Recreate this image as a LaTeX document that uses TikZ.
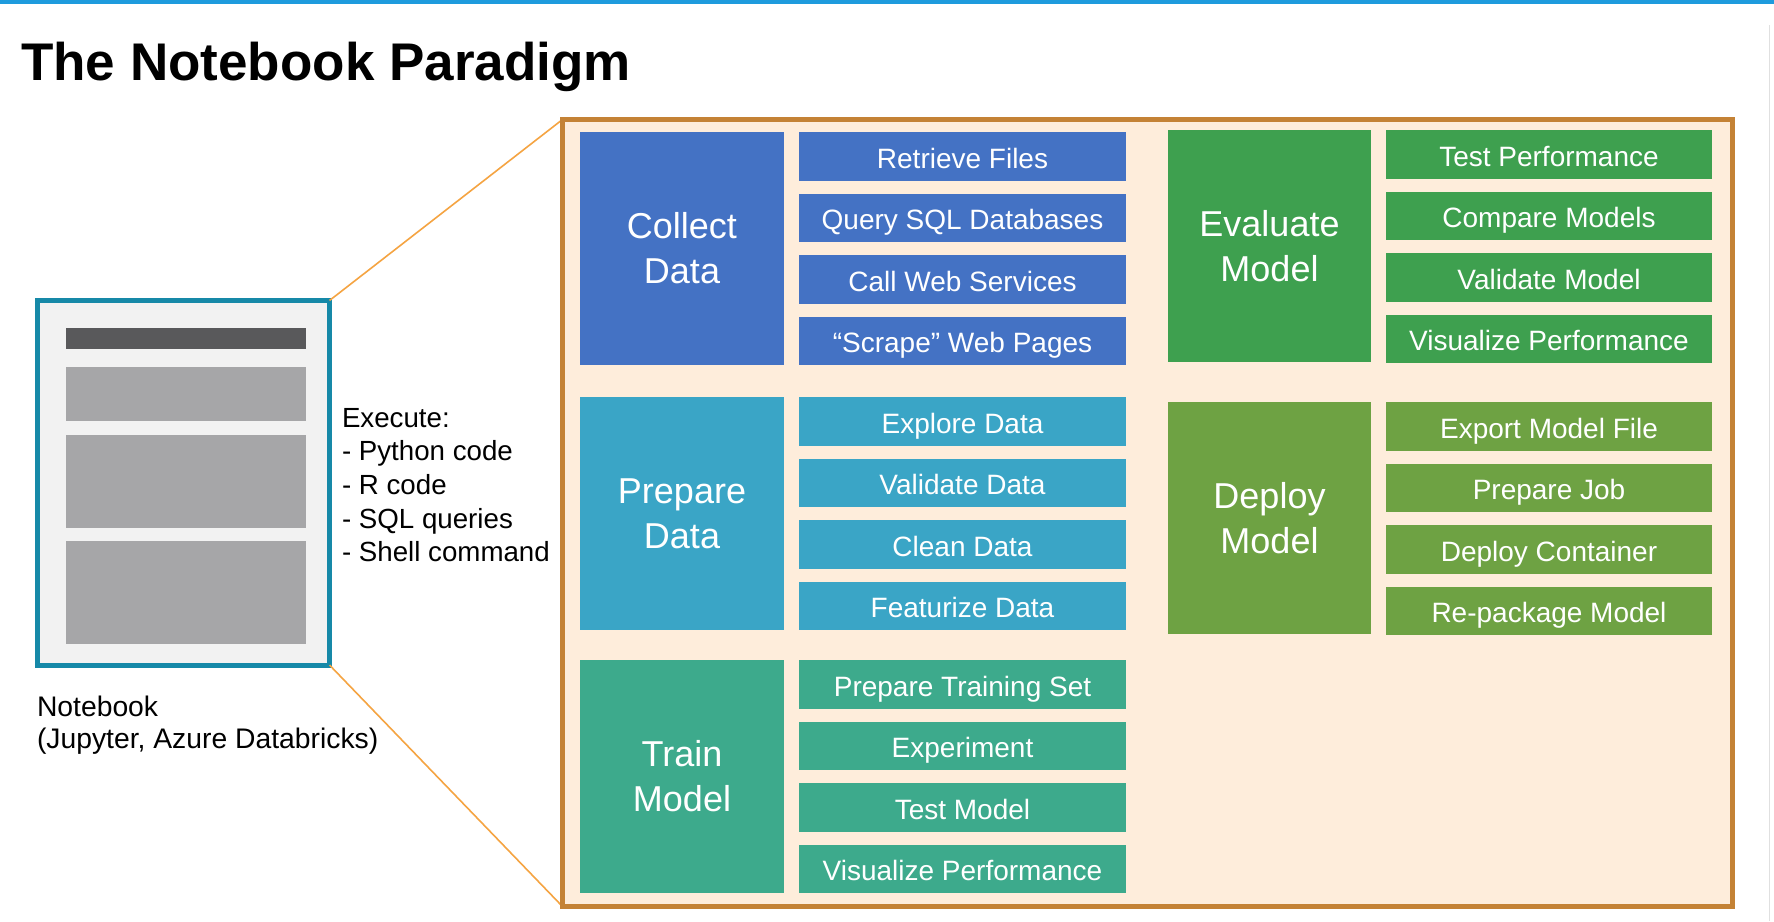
\documentclass[tikz,border=0pt]{standalone}
\usepackage{fontspec}
\setmainfont{Liberation Sans}
\definecolor{topblue}{HTML}{1E9BDD}
\definecolor{cCollect}{HTML}{4472C4}
\definecolor{cPrepare}{HTML}{3AA5C6}
\definecolor{cTrain}{HTML}{3DAA8C}
\definecolor{cEval}{HTML}{3EA04F}
\definecolor{cDeploy}{HTML}{6EA243}
\definecolor{frameline}{HTML}{C48235}
\definecolor{framefill}{HTML}{FEEDDB}
\definecolor{nbline}{HTML}{1689A8}
\definecolor{nbfill}{HTML}{F2F2F2}
\definecolor{nbdark}{HTML}{59595B}
\definecolor{nbgray}{HTML}{A6A6A8}
\definecolor{zoomline}{HTML}{F5A442}
\begin{document}
\begin{tikzpicture}[x=1pt,y=-1pt,
  box/.style={anchor=north west, inner sep=0pt, outer sep=0pt, text=white, align=center},
  headbox/.style={box, minimum width=204pt, minimum height=233pt, font=\fontsize{36}{45}\selectfont},
  subbox/.style={box, minimum width=327pt, minimum height=48.5pt, font=\fontsize{28}{34}\selectfont, text height=24pt, text depth=0pt},
  nbpart/.style={anchor=north west, inner sep=0pt, outer sep=0pt, minimum width=240pt},
  plain/.style={inner sep=0pt, outer sep=0pt, align=left, font=\fontsize{27.7}{33.7}\selectfont},
  zoomconn/.style={draw=zoomline, line width=1.6pt}
]
\useasboundingbox (0,0) rectangle (1774,921);
\fill[white] (0,0) rectangle (1774,921);
\fill[topblue] (0,0) rectangle (1774,3.5);
\draw[black!12, line width=1pt] (1769,25) -- (1769,921);

% title
\node[anchor=base west, inner sep=0pt, font=\fontsize{53}{60}\selectfont\bfseries] (title) at (21,80) {The Notebook Paradigm};

% notebook
\node[anchor=north west, draw=nbline, fill=nbfill, line width=5pt, inner sep=0pt, outer sep=0pt,
      minimum width=292pt, minimum height=364.5pt] (nb) at (37.5,300.5) {};
\node[nbpart, fill=nbdark, minimum height=21pt] (bar) at (66,328) {};
\node[nbpart, fill=nbgray, minimum height=54pt] (cell1) at (66,367) {};
\node[nbpart, fill=nbgray, minimum height=93pt] (cell2) at (66,435) {};
\node[nbpart, fill=nbgray, minimum height=103pt] (cell3) at (66,541) {};

% multi-line nodes: base anchor is the baseline of the last line
\node[plain, anchor=base west] (exec) at (342,561.8) {Execute:\\- Python code\\- R code\\- SQL queries\\- Shell command};
\node[plain, anchor=base west, font=\fontsize{28.3}{32}\selectfont] (nblabel) at (37,748) {Notebook\\(Jupyter, Azure Databricks)};

% frame
\node[anchor=north west, draw=frameline, fill=framefill, line width=5pt, inner sep=0pt, outer sep=0pt,
      minimum width=1170pt, minimum height=787pt] (frame) at (562.5,119.5) {};
\draw[zoomconn] (nb.north east) -- (frame.north west);
\draw[zoomconn] (nb.south east) -- (frame.south west);
\draw[frameline, line width=5pt] (frame.north west) rectangle (frame.south east);

% Collect Data
\node[headbox, fill=cCollect] (collect) at (580,132) {Collect\\Data};
\node[subbox, fill=cCollect] (c1) at (799,132) {Retrieve Files};
\node[subbox, fill=cCollect] (c2) at (799,193.5) {Query SQL Databases};
\node[subbox, fill=cCollect] (c3) at (799,255) {Call Web Services};
\node[subbox, fill=cCollect] (c4) at (799,316.5) {“Scrape” Web Pages};

% Prepare Data
\node[headbox, fill=cPrepare] (prepare) at (580,397) {Prepare\\Data};
\node[subbox, fill=cPrepare] (p1) at (799,397) {Explore Data};
\node[subbox, fill=cPrepare] (p2) at (799,458.5) {Validate Data};
\node[subbox, fill=cPrepare] (p3) at (799,520) {Clean Data};
\node[subbox, fill=cPrepare] (p4) at (799,581.5) {Featurize Data};

% Train Model
\node[headbox, fill=cTrain] (train) at (580,660) {Train\\Model};
\node[subbox, fill=cTrain] (t1) at (799,660) {Prepare Training Set};
\node[subbox, fill=cTrain] (t2) at (799,721.5) {Experiment};
\node[subbox, fill=cTrain] (t3) at (799,783) {Test Model};
\node[subbox, fill=cTrain] (t4) at (799,844.5) {Visualize Performance};

% Evaluate Model
\node[headbox, fill=cEval, minimum width=203pt, minimum height=232pt] (evaluate) at (1168,130) {Evaluate\\Model};
\node[subbox, fill=cEval, minimum width=326pt] (e1) at (1386,130) {Test Performance};
\node[subbox, fill=cEval, minimum width=326pt] (e2) at (1386,191.5) {Compare Models};
\node[subbox, fill=cEval, minimum width=326pt] (e3) at (1386,253) {Validate Model};
\node[subbox, fill=cEval, minimum width=326pt] (e4) at (1386,314.5) {Visualize Performance};

% Deploy Model
\node[headbox, fill=cDeploy, minimum width=203pt, minimum height=232pt] (deploy) at (1168,402) {Deploy\\Model};
\node[subbox, fill=cDeploy, minimum width=326pt] (d1) at (1386,402) {Export Model File};
\node[subbox, fill=cDeploy, minimum width=326pt] (d2) at (1386,463.5) {Prepare Job};
\node[subbox, fill=cDeploy, minimum width=326pt] (d3) at (1386,525) {Deploy Container};
\node[subbox, fill=cDeploy, minimum width=326pt] (d4) at (1386,586.5) {Re-package Model};
\end{tikzpicture}
\end{document}
